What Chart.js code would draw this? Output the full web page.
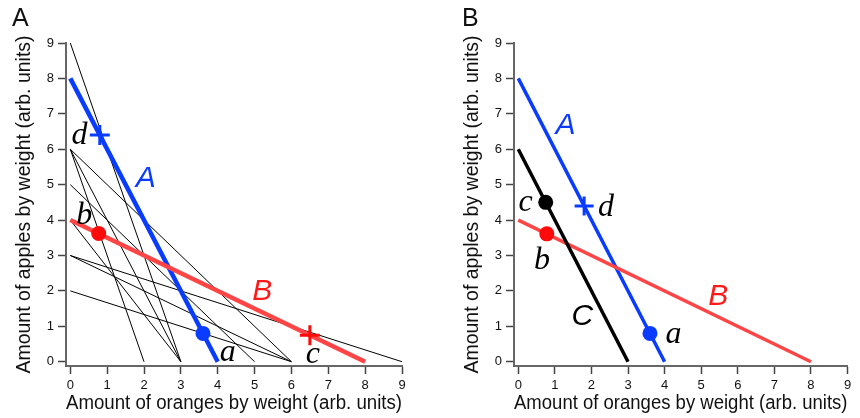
<!DOCTYPE html>
<html>
<head>
<meta charset="utf-8">
<script src="https://cdn.jsdelivr.net/npm/chart.js@4.4.1/dist/chart.umd.min.js"></script>
<style>
  html, body { margin: 0; padding: 0; background: #fff; }
  #wrap { position: relative; width: 860px; height: 418px; }
  .panel { position: absolute; top: 0; width: 430px; height: 418px; }
  .letter { position: absolute; top: 5px; font: 25px "Liberation Sans", Arial, sans-serif; line-height: 25px; color: #111; }
</style>
</head>
<body>
<div id="wrap">
  <div class="panel" style="left:0"><canvas id="chartA" width="430" height="418"></canvas></div>
  <div class="panel" style="left:430px"><canvas id="chartB" width="430" height="418"></canvas></div>
  <div class="letter" style="left:12px">A</div>
  <div class="letter" style="left:462px">B</div>
</div>
<script>
// ===== data =====
const tickValues = [0, 1, 2, 3, 4, 5, 6, 7, 8, 9];

// thin black budget lines of panel A (y intercept -> x intercept)
const thinY0 = [9, 6, 6, 6, 5, 4, 3, 3, 2];
const thinX0 = [3, 2, 3, 6, 5, 3, 6, 9, 6];

// budget lines A, B, C
const lineAX = [0, 4], lineAY = [8, 0];
const lineBX = [0, 8], lineBY = [4, 0];
const lineCX = [0, 3], lineCY = [6, 0];

// chosen bundles, panel A
const leftDotA = [3.6, 0.8];
const leftDotB = [0.77, 3.62];
const leftCrossC = [6.5, 0.75];
const leftCrossD = [0.8, 6.4];

// chosen bundles, panel B
const rightDotA = [3.6, 0.8];
const rightDotB = [0.78, 3.61];
const rightDotC = [0.75, 4.5];
const rightCrossD = [1.8, 4.4];

// text labels [text, x, y]
const leftPointLabels = [["a", 4.27, 0.02], ["b", 0.38, 3.9], ["c", 6.58, -0.03], ["d", 0.25, 6.16]];
const leftLineLabels = [["A", 2.05, 4.93, "#0a3cff"], ["B", 5.21, 1.75, "#ff1a1a"]];
const rightPointLabels = [["a", 4.24, 0.54], ["b", 0.65, 2.61], ["c", 0.2, 4.25], ["d", 2.4, 4.12]];
const rightLineLabels = [["A", 1.29, 6.42, "#0a3cff"], ["B", 5.47, 1.6, "#ff1a1a"], ["C", 1.75, 1.04, "#000"]];

const BLUE = "#0a3cff";
const RED_LINE = "#ff4545";
const RED = "#ff0a0a";

// ===== helpers =====
function seg(xs, ys) {
  return xs.map((x, i) => ({ x: x, y: ys[i] }));
}

function lineSet(xs, ys, color, width, order) {
  return {
    data: seg(xs, ys),
    showLine: true,
    borderColor: color,
    borderWidth: width,
    pointRadius: 0,
    order: order,
  };
}

function pointSet(p, color, style, r, order) {
  return {
    data: [{ x: p[0], y: p[1] }],
    showLine: false,
    pointStyle: style,
    pointRadius: r,
    backgroundColor: color,
    borderColor: color,
    borderWidth: style === "cross" ? 3 : 0,
    order: order,
  };
}

const labelPlugin = {
  id: "labels",
  afterDatasetsDraw(chart, args, opts) {
    const ctx = chart.ctx;
    const xs = chart.scales.x, ys = chart.scales.y;
    ctx.save();
    ctx.textAlign = "center";
    ctx.textBaseline = "alphabetic";
    ctx.font = 'italic 32px "Liberation Serif", "Times New Roman", serif';
    ctx.fillStyle = "#000";
    opts.points.forEach(l => {
      ctx.fillText(l[0], xs.getPixelForValue(l[1]), ys.getPixelForValue(l[2]));
    });
    ctx.font = 'italic 30px "Liberation Sans", Arial, sans-serif';
    opts.lines.forEach(l => {
      ctx.fillStyle = l[3];
      ctx.fillText(l[0], xs.getPixelForValue(l[1]), ys.getPixelForValue(l[2]));
    });
    ctx.restore();
  },
};

function axis(min, titleText, fitFn, titlePad) {
  return {
    type: "linear",
    min: min,
    max: 9,
    afterBuildTicks: s => { s.ticks = tickValues.map(v => ({ value: v })); },
    afterFit: fitFn,
    ticks: {
      color: "#111",
      padding: 4,
      font: { family: '"Liberation Sans", Arial, sans-serif', size: 13 },
    },
    grid: {
      drawOnChartArea: false,
      drawTicks: true,
      tickLength: 8,
      tickWidth: 1.5,
      tickColor: "#444",
    },
    border: { display: true, color: "#666", width: 2 },
    title: {
      display: true,
      text: titleText,
      color: "#111",
      padding: titlePad,
      font: { family: '"Liberation Sans", Arial, sans-serif', size: 19.5 },
    },
  };
}

function makePanel(id, datasets, yWidth, padRight, yTitlePad, pointLabels, lineLabels) {
  return new Chart(document.getElementById(id), {
    type: "scatter",
    data: { datasets: datasets },
    options: {
      responsive: false,
      animation: false,
      layout: { padding: { left: 0, right: padRight, top: 43, bottom: 0 } },
      plugins: {
        legend: { display: false },
        tooltip: { enabled: false },
        labels: { points: pointLabels, lines: lineLabels },
      },
      scales: {
        x: axis(-0.117, "Amount of oranges by weight (arb. units)", s => { s.height = 52; }, { top: 0, bottom: 3 }),
        y: axis(-0.121, "Amount of apples by weight (arb. units)", s => { s.width = yWidth; }, { top: yTitlePad, bottom: 0 }),
      },
    },
    plugins: [labelPlugin],
  });
}

// ===== panel A =====
const dsA = [];
dsA.push(pointSet(leftDotA, BLUE, "circle", 7.5, 0));
dsA.push(pointSet(leftDotB, RED, "circle", 7.5, 0));
dsA.push(pointSet(leftCrossC, RED, "cross", 10, 0));
dsA.push(pointSet(leftCrossD, BLUE, "cross", 10, 0));
dsA.push(lineSet(lineBX, lineBY, RED_LINE, 4.5, 1));
dsA.push(lineSet(lineAX, lineAY, BLUE, 4.5, 2));
thinY0.forEach((y0, i) => {
  dsA.push(lineSet([0, thinX0[i]], [y0, 0], "#000", 1, 3));
});
makePanel("chartA", dsA, 66, 28, 13, leftPointLabels, leftLineLabels);

// ===== panel B =====
const dsB = [];
dsB.push(pointSet(rightDotA, BLUE, "circle", 7.5, 0));
dsB.push(pointSet(rightDotB, RED, "circle", 7.5, 0));
dsB.push(pointSet(rightDotC, "#000", "circle", 7.5, 0));
dsB.push(pointSet(rightCrossD, BLUE, "cross", 9.5, 0));
dsB.push(lineSet(lineCX, lineCY, "#000", 3.5, 1));
dsB.push(lineSet(lineBX, lineBY, RED_LINE, 3.5, 2));
dsB.push(lineSet(lineAX, lineAY, BLUE, 3.5, 3));
makePanel("chartB", dsB, 84, 9, 31, rightPointLabels, rightLineLabels);
</script>
</body>
</html>
